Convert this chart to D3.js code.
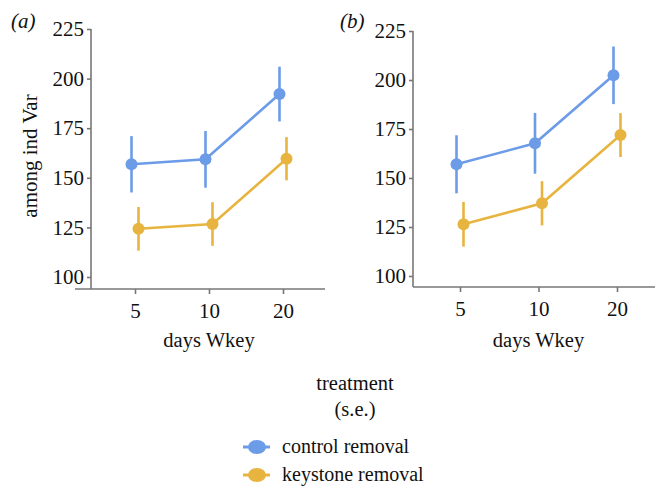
<!DOCTYPE html>
<html>
<head>
<meta charset="UTF-8">
<script src="https://cdn.jsdelivr.net/npm/d3@7"></script>
<style>
body { margin: 0; background: #fff; }
</style>
</head>
<body>
<div id="chart"></div>
<script>
// data
const days = ["5", "10", "20"];
const yTicks = [100, 125, 150, 175, 200, 225];
const seriesNames = ["control removal", "keystone removal"];
const colors = ["#6c9be8", "#e8b440"];

// panel a
const aControl = [156.8, 159.3, 192.2];
const aControlSE = [14.2, 14.3, 13.8];
const aKeystone = [124.3, 126.7, 159.6];
const aKeystoneSE = [11.0, 11.0, 10.9];

// panel b
const bControl = [157.0, 167.7, 202.4];
const bControlSE = [14.8, 15.5, 14.7];
const bKeystone = [126.4, 137.1, 171.9];
const bKeystoneSE = [11.4, 11.3, 11.2];

const W = 657, H = 488;
const svg = d3.select("#chart").append("svg")
    .attr("width", W).attr("height", H);

function panel(opts) {
    const g = svg.append("g");
    const y = d3.scaleLinear().domain([100, 225]).range([opts.y100, opts.y225]);
    const x = d3.scalePoint().domain(days).range([opts.x5, opts.x20]);
    const yBottom = opts.axisY;

    // axes
    g.append("line")
        .attr("x1", opts.xAxisStart).attr("x2", opts.xAxisEnd)
        .attr("y1", yBottom).attr("y2", yBottom)
        .attr("stroke", "#777").attr("stroke-width", 1.6);
    g.append("line")
        .attr("x1", opts.yAxisX).attr("x2", opts.yAxisX)
        .attr("y1", y(225)).attr("y2", yBottom)
        .attr("stroke", "#777").attr("stroke-width", 1.6);

    const yAx = g.append("g")
        .attr("transform", "translate(" + opts.yAxisX + ",0)")
        .call(d3.axisLeft(y).tickValues(yTicks).tickSize(4).tickPadding(3));
    yAx.select(".domain").remove();
    yAx.selectAll("line").attr("stroke", "#777").attr("stroke-width", 1.6);
    yAx.selectAll("text").style("font-size", "21px");

    const xAx = g.append("g")
        .attr("transform", "translate(0," + yBottom + ")")
        .call(d3.axisBottom(x).tickSize(5).tickPadding(9));
    xAx.select(".domain").remove();
    xAx.selectAll("line").attr("stroke", "#777").attr("stroke-width", 1.6);
    xAx.selectAll("text").style("font-size", "21px");

    g.append("text")
        .attr("x", (opts.x5 + opts.x20) / 2).attr("y", 347)
        .attr("text-anchor", "middle")
        .style("font-size", "20.5px")
        .text("days Wkey");

    g.append("text")
        .attr("x", opts.labelX).attr("y", 28)
        .style("font-size", "21px").style("font-style", "italic")
        .text(opts.label);

    const series = [
        { vals: opts.control, se: opts.controlSE, dx: -3.5, c: colors[0] },
        { vals: opts.keystone, se: opts.keystoneSE, dx: 3.5, c: colors[1] }
    ];
    series.forEach(function(s) {
        const pts = days.map(function(d, i) {
            return { x: x(d) + s.dx, v: s.vals[i], se: s.se[i] };
        });
        g.append("path")
            .datum(pts)
            .attr("fill", "none")
            .attr("stroke", s.c).attr("stroke-width", 2.6)
            .attr("d", d3.line().x(function(d) { return d.x; }).y(function(d) { return y(d.v); }));
        g.selectAll(null).data(pts).enter().append("line")
            .attr("x1", function(d) { return d.x; }).attr("x2", function(d) { return d.x; })
            .attr("y1", function(d) { return y(d.v - d.se); })
            .attr("y2", function(d) { return y(d.v + d.se); })
            .attr("stroke", s.c).attr("stroke-width", 2.6);
        g.selectAll(null).data(pts).enter().append("circle")
            .attr("cx", function(d) { return d.x; })
            .attr("cy", function(d) { return y(d.v); })
            .attr("r", 6)
            .attr("fill", s.c);
    });
}

panel({
    label: "(a)", labelX: 11,
    yAxisX: 91, y225: 29, y100: 277, axisY: 289,
    xAxisStart: 75, xAxisEnd: 325,
    x5: 135, x20: 283,
    control: aControl, controlSE: aControlSE,
    keystone: aKeystone, keystoneSE: aKeystoneSE
});

panel({
    label: "(b)", labelX: 340,
    yAxisX: 413, y225: 31, y100: 276, axisY: 287,
    xAxisStart: 413, xAxisEnd: 655,
    x5: 460, x20: 617,
    control: bControl, controlSE: bControlSE,
    keystone: bKeystone, keystoneSE: bKeystoneSE
});

// y axis title
svg.append("text")
    .attr("transform", "translate(37,156) rotate(-90)")
    .attr("text-anchor", "middle")
    .style("font-size", "21px")
    .text("among ind Var");

// legend
svg.append("text").attr("x", 355).attr("y", 390).attr("text-anchor", "middle")
    .style("font-size", "20.5px").text("treatment");
svg.append("text").attr("x", 355).attr("y", 416).attr("text-anchor", "middle")
    .style("font-size", "20.5px").text("(s.e.)");

const leg = svg.append("g");
seriesNames.forEach(function(name, i) {
    const cy = 447 + i * 28;
    leg.append("line")
        .attr("x1", 243).attr("x2", 270).attr("y1", cy).attr("y2", cy)
        .attr("stroke", colors[i]).attr("stroke-width", 3);
    leg.append("ellipse")
        .attr("cx", 257).attr("cy", cy).attr("rx", 9).attr("ry", 7)
        .attr("fill", colors[i]);
    leg.append("text")
        .attr("x", 282).attr("y", cy + 6)
        .style("font-size", "20px")
        .text(name);
});

svg.selectAll("text")
    .style("font-family", "'Liberation Serif'")
    .attr("fill", "#111");
</script>
</body>
</html>
